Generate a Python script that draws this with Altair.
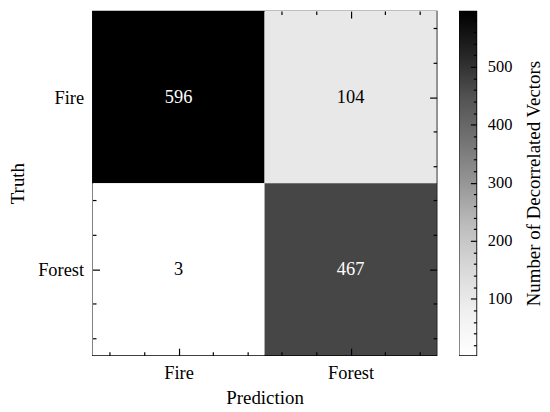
import altair as alt
import pandas as pd

# ---- data ----
classes = ["Fire", "Forest"]
truth = ["Fire", "Fire", "Forest", "Forest"]
prediction = ["Fire", "Forest", "Fire", "Forest"]
counts = [596, 104, 3, 467]

# tick positions (cell centres are the major ticks)
grid_ticks = [-0.4, -0.2, 0.0, 0.2, 0.4, 0.6, 0.8, 1.0, 1.2, 1.4]
cbar_ticks = [20, 40, 60, 80, 100, 120, 140, 160, 180, 200, 220, 240, 260, 280,
              300, 320, 340, 360, 380, 400, 420, 440, 460, 480, 500, 520, 540,
              560, 580]

# matplotlib "Greys" colormap anchors
greys = ["#ffffff", "#f0f0f0", "#d9d9d9", "#bdbdbd", "#969696",
         "#737373", "#525252", "#252525", "#000000"]

FONT = "Liberation Serif"
FS = 18.5      # tick labels / cell numbers
TFS = 19       # axis titles
CFS = 16.5     # colour-bar tick labels

df = pd.DataFrame({"truth": truth, "prediction": prediction, "count": counts})
df["px"] = [classes.index(p) for p in prediction]
df["ty"] = [classes.index(t) for t in truth]

lo, hi = min(counts), max(counts)
color_domain = [lo + (hi - lo) * i / (len(greys) - 1) for i in range(len(greys))]

major_test = "abs(datum.value - round(datum.value)) < 0.001"
tick_expr = {"expr": f"{major_test} ? -7 : -3.5"}
label_expr = " : ".join(
    f"datum.value == {i} ? '{c}'" for i, c in enumerate(classes)
) + " : ''"

xscale = alt.Scale(domain=[-0.5, 1.5], nice=False, zero=False)
yscale = alt.Scale(domain=[-0.5, 1.5], nice=False, zero=False, reverse=True)


def make_axis(orient, labels, title=None, **kw):
    args = dict(orient=orient, values=grid_ticks, tickSize=tick_expr,
                domain=False, grid=False, labels=labels, tickColor="black",
                tickWidth=1.2, labelOverlap=False, labelFontSize=FS,
                titleFontSize=TFS, title=title, zindex=2)
    if labels:
        args["labelExpr"] = label_expr
    args.update(kw)
    return alt.Axis(**args)


bottom_axis = make_axis("bottom", True, "Prediction", labelPadding=15.5, titlePadding=3)
left_axis = make_axis("left", True, "Truth", labelPadding=16, titlePadding=10)
top_axis = make_axis("top", False)
right_axis = make_axis("right", False)

rect = alt.Chart(df).transform_calculate(
    x0="datum.px - 0.5", x1="datum.px + 0.5",
    y0="datum.ty - 0.5", y1="datum.ty + 0.5",
).mark_rect().encode(
    x=alt.X("x0:Q", scale=xscale, axis=bottom_axis),
    x2="x1:Q",
    y=alt.Y("y0:Q", scale=yscale, axis=left_axis),
    y2="y1:Q",
    color=alt.Color("count:Q", scale=alt.Scale(domain=color_domain, range=greys),
                    legend=None),
)

text = alt.Chart(df).mark_text(font=FONT, fontSize=FS).encode(
    x=alt.X("px:Q", scale=xscale, axis=top_axis),
    y=alt.Y("ty:Q", scale=yscale, axis=right_axis),
    text="count:Q",
    color=alt.condition(f"datum.count > {(lo + hi) / 2}", alt.value("white"),
                        alt.value("black")),
)

heatmap = alt.layer(rect, text).resolve_axis(
    x="independent", y="independent"
).properties(width=346, height=346)

cbar_axis = alt.Axis(
    orient="right", values=cbar_ticks,
    tickSize={"expr": "datum.value % 100 == 0 ? -6 : -3"},
    labelExpr="datum.value % 100 == 0 ? datum.label : ''",
    domain=False, grid=False, tickColor="black", tickWidth=1.2,
    labelOverlap=False, labelPadding=17, labelFontSize=CFS,
    title="Number of Decorrelated Vectors", titleFontSize=TFS,
    titleAngle=270, titleBaseline="top", titlePadding=13, zindex=2,
)

gradient = alt.Gradient(
    gradient="linear",
    stops=[alt.GradientStop(offset=i / (len(greys) - 1), color=c)
           for i, c in enumerate(greys)],
    x1=0, x2=0, y1=1, y2=0,
)

cbar = alt.Chart(df).mark_rect(fill=gradient).encode(
    y=alt.Y("min(count):Q", scale=alt.Scale(domain=[lo, hi], nice=False, zero=False),
            axis=cbar_axis),
    y2="max(count)",
).properties(width=17, height=346)

chart = alt.hconcat(heatmap, cbar, spacing=20).properties(
    padding={"left": 0, "top": 0, "right": -3, "bottom": -4}
).configure_axis(
    labelFont=FONT, titleFont=FONT, titleFontWeight="normal",
    labelColor="black", titleColor="black",
).configure_text(font=FONT).configure_view(stroke="black", strokeWidth=1.3)

chart.save("out.html", embed_options={"renderer": "svg", "actions": False})
